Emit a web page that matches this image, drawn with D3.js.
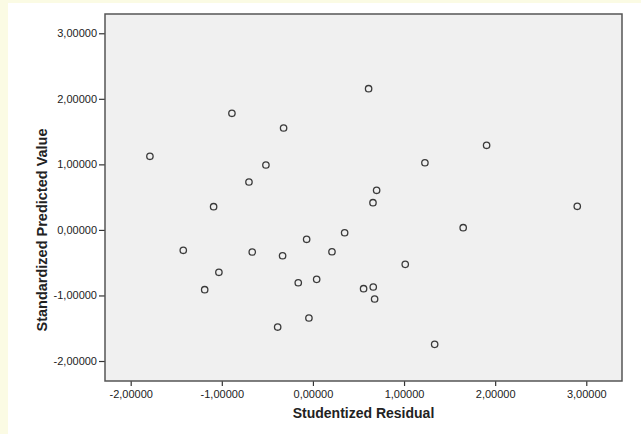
<!DOCTYPE html>
<html>
<head>
<meta charset="utf-8">
<script src="https://cdn.jsdelivr.net/npm/d3@7"></script>
<style>
  html, body { margin: 0; padding: 0; background: #ffffff; }
  svg { display: block; }
</style>
</head>
<body>
<div id="chart"></div>
<script>
// studentized residual (x) and standardized predicted value (y), one entry per case
var residual = [-1.789, -0.889, -0.322, -0.516, -0.702, -1.090, 0.611, 1.229, 1.906, 0.699,
                0.659, 2.901, 1.649, 0.348, -0.069, -1.423, -0.666, -0.333, 0.209, 1.013,
                -1.032, -1.188, -0.161, 0.041, 0.556, 0.662, 0.677, -0.044, -0.387, 1.336];
var predicted = [1.123, 1.779, 1.555, 0.990, 0.731, 0.354, 2.154, 1.025, 1.291, 0.604,
                 0.415, 0.360, 0.034, -0.043, -0.143, -0.311, -0.337, -0.394, -0.333, -0.525,
                 -0.647, -0.912, -0.806, -0.754, -0.897, -0.871, -1.054, -1.344, -1.482, -1.746];
var xTicks = [-2, -1, 0, 1, 2, 3];
var yTicks = [-2, -1, 0, 1, 2, 3];
var xTitle = "Studentized Residual";
var yTitle = "Standardized Predicted Value";

var width = 641;
var height = 434;

var svg = d3.select('#chart')
  .append('svg')
  .attr('width', width)
  .attr('height', height);

// pale yellow strips along the left and top edge
svg.append('rect').attr('x', 0).attr('y', 0).attr('width', width).attr('height', 3).attr('fill', '#fbfbe4');
svg.append('rect').attr('x', 0).attr('y', 0).attr('width', 8).attr('height', height).attr('fill', '#fbfbe4');

var x = d3.scaleLinear()
  .domain([-2.282, 3.392])
  .range([105, 622]);

var y = d3.scaleLinear()
  .domain([-2.305, 3.294])
  .range([381, 14]);

var locale = d3.formatLocale({ decimal: ",", thousands: ".", grouping: [3], currency: ["", ""], minus: "-" });
var fmt = locale.format(".5f");

svg.append('rect')
  .attr('x', x.range()[0])
  .attr('y', y.range()[1])
  .attr('width', x.range()[1] - x.range()[0])
  .attr('height', y.range()[0] - y.range()[1])
  .attr('fill', '#f0f0f0');

var xAxis = svg.append('g')
  .attr('transform', 'translate(0,' + y.range()[0] + ')')
  .call(d3.axisBottom(x).tickValues(xTicks).tickFormat(fmt).tickSize(5).tickPadding(4));

var yAxis = svg.append('g')
  .attr('transform', 'translate(' + x.range()[0] + ',0)')
  .call(d3.axisLeft(y).tickValues(yTicks).tickFormat(fmt).tickSize(6).tickPadding(2));

[xAxis, yAxis].forEach(function(g) {
  g.select('.domain').remove();
  g.selectAll('.tick line').attr('stroke', '#333').attr('stroke-width', 1.2);
  g.selectAll('.tick text')
    .attr('fill', '#222')
    .style('font-family', 'Liberation Sans, Arial, sans-serif')
    .style('font-size', '11px');
});

// frame around the plot area
svg.append('rect')
  .attr('x', x.range()[0])
  .attr('y', y.range()[1])
  .attr('width', x.range()[1] - x.range()[0])
  .attr('height', y.range()[0] - y.range()[1])
  .attr('fill', 'none')
  .attr('stroke', '#555')
  .attr('stroke-width', 1.5);

svg.selectAll('circle.pt')
  .data(residual)
  .enter()
  .append('circle')
  .attr('class', 'pt')
  .attr('cx', function(d) { return x(d); })
  .attr('cy', function(d, i) { return y(predicted[i]); })
  .attr('r', 3.2)
  .attr('fill', 'none')
  .attr('stroke', '#3a3a3a')
  .attr('stroke-width', 1.3);

svg.append('text')
  .attr('x', (x.range()[0] + x.range()[1]) / 2)
  .attr('y', 418)
  .attr('text-anchor', 'middle')
  .attr('fill', '#222')
  .style('font-family', 'Liberation Sans, Arial, sans-serif')
  .style('font-weight', 'bold')
  .style('font-size', '14px')
  .text(xTitle);

svg.append('text')
  .attr('transform', 'translate(47,230) rotate(-90)')
  .attr('text-anchor', 'middle')
  .attr('fill', '#222')
  .style('font-family', 'Liberation Sans, Arial, sans-serif')
  .style('font-weight', 'bold')
  .style('font-size', '14.5px')
  .text(yTitle);
</script>
</body>
</html>
